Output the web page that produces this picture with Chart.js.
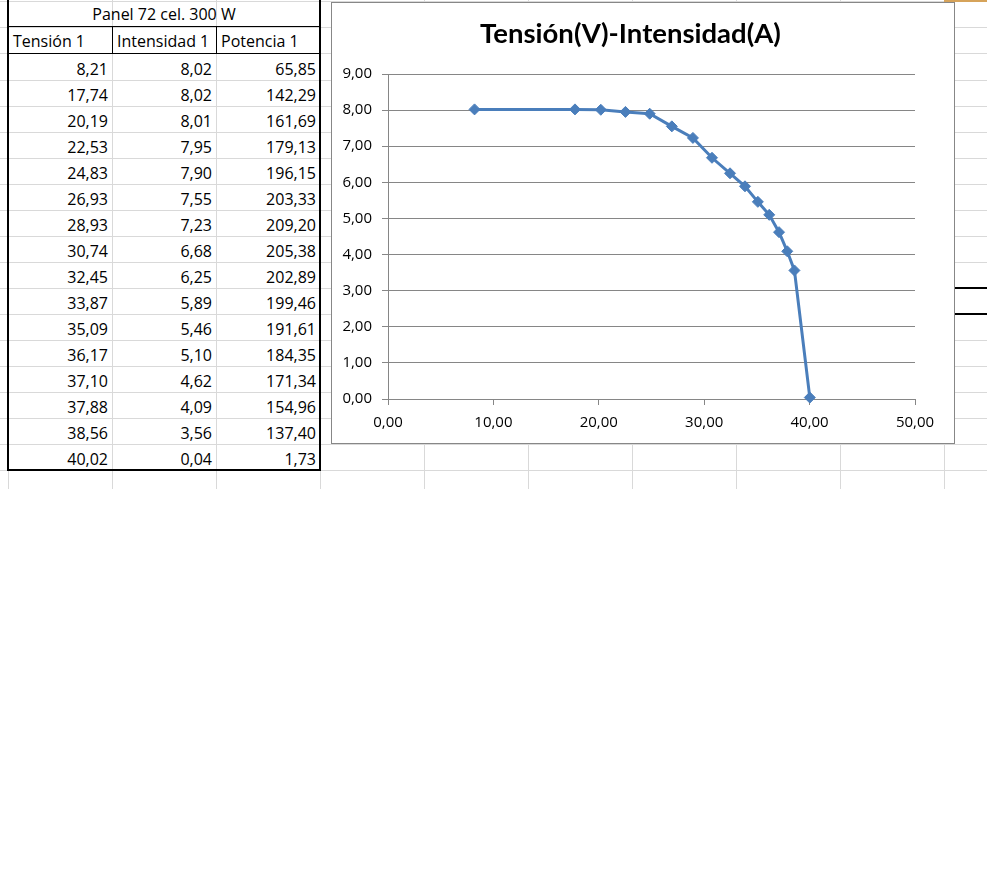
<!DOCTYPE html>
<html>
<head>
<meta charset="utf-8">
<script src="https://cdn.jsdelivr.net/npm/chart.js@4.4.1/dist/chart.umd.min.js"></script>
<style>
  body { margin: 0; background: #fff; }
  #sheet { position: relative; width: 987px; height: 880px; overflow: hidden; font-family: "Open Sans", sans-serif; font-size: 16px; color: #000; }
  .gl { position: absolute; background: #d9d9d9; }
  .bk { position: absolute; background: #000; }
  .txt { position: absolute; height: 26px; line-height: 26px; white-space: nowrap; }
  #chartBox { position: absolute; left: 331px; top: 2px; width: 622px; height: 440px; border: 1px solid #878787; background: #fff; z-index: 2; }
</style>
</head>
<body>
<div id="sheet">
  <div id="chartBox"><canvas id="ivChart" width="622" height="440"></canvas></div>
</div>
<script>
  // ===== Datos del panel =====
  const tableTitle = "Panel 72 cel. 300 W";
  const headers = ["Tensión 1", "Intensidad 1", "Potencia 1"];
  const tension = [8.21, 17.74, 20.19, 22.53, 24.83, 26.93, 28.93, 30.74, 32.45, 33.87, 35.09, 36.17, 37.10, 37.88, 38.56, 40.02];
  const intensidad = [8.02, 8.02, 8.01, 7.95, 7.90, 7.55, 7.23, 6.68, 6.25, 5.89, 5.46, 5.10, 4.62, 4.09, 3.56, 0.04];
  const potencia = [65.85, 142.29, 161.69, 179.13, 196.15, 203.33, 209.20, 205.38, 202.89, 199.46, 191.61, 184.35, 171.34, 154.96, 137.40, 1.73];
  const chartTitle = "Tensión(V)-Intensidad(A)";

  const fmt = v => Number(v).toFixed(2).replace(".", ",");

  // ===== Hoja (cuadricula + tabla) =====
  const sheet = document.getElementById("sheet");
  const box = document.getElementById("chartBox");

  function el(cls, x, y, w, h, text, align) {
    let d = document.createElement("div");
    d.className = cls;
    d.style.left = x + "px";
    d.style.top = y + "px";
    if (w != null) d.style.width = w + "px";
    if (h != null) d.style.height = h + "px";
    if (text != null) d.textContent = text;
    if (align) d.style.textAlign = align;
    sheet.insertBefore(d, box);
    return d;
  }

  let rowLines = [1, 27, 53];
  for (let i = 0; i <= 15; i++) rowLines.push(80 + 26 * i);
  let colLines = [8, 112, 216, 320, 424, 528, 632, 736, 840, 944];

  rowLines.forEach(y => el("gl", 0, y, 987, 1));
  colLines.forEach(x => el("gl", x, 0, 1, 489));

  // bordes de la tabla
  el("bk", 7, 0, 2, 471);
  el("bk", 319, 0, 2, 471);
  el("bk", 7, 469, 314, 2);
  el("bk", 8, 26, 312, 1);
  el("bk", 8, 53, 312, 1);
  el("bk", 112, 27, 1, 27);
  el("bk", 216, 27, 1, 27);

  // celda con borde a la derecha y marca naranja
  el("bk", 954, 287, 33, 2);
  el("bk", 954, 313, 33, 2);
  el("gl", 944, 0, 43, 2).style.background = "#d6a35a";

  // textos (alineados abajo como en Excel)
  el("txt", 8, 20 - 19, 312, null, tableTitle, "center");
  headers.forEach((h, i) => el("txt", colLines[i] + 5, 47 - 19, null, null, h));
  for (let r = 0; r < tension.length; r++) {
    let base = 75 + 26 * r - 19;
    el("txt", 8, base, 100, null, fmt(tension[r]), "right");
    el("txt", 112, base, 100, null, fmt(intensidad[r]), "right");
    el("txt", 216, base, 100, null, fmt(potencia[r]), "right");
  }

  // ===== Grafico V-I =====
  const points = tension.map((v, i) => ({ x: v, y: intensidad[i] }));
  const gray = "#868686";

  new Chart(document.getElementById("ivChart"), {
    type: "scatter",
    data: {
      datasets: [{
        label: chartTitle,
        data: points,
        showLine: true,
        borderColor: "#4A7EBB",
        backgroundColor: "#4A7EBB",
        borderWidth: 3,
        pointStyle: "rectRot",
        pointRadius: 5.5,
        pointHoverRadius: 5.5,
        pointBorderWidth: 1,
        tension: 0,
        clip: false
      }]
    },
    options: {
      responsive: false,
      animation: false,
      devicePixelRatio: 1,
      layout: { padding: { left: 0, top: 0, right: 25, bottom: 0 } },
      plugins: {
        legend: { display: false },
        tooltip: { enabled: false },
        title: {
          display: true,
          text: chartTitle,
          color: "#000",
          font: { family: "Lato", weight: "bold", size: 27.5, lineHeight: "34px" },
          padding: { top: 14, bottom: 23 }
        }
      },
      scales: {
        x: {
          type: "linear",
          min: 0,
          max: 50,
          ticks: { stepSize: 10, padding: 9, color: "#000", maxRotation: 0, font: { family: "Open Sans", size: 15 }, callback: fmt },
          grid: { drawOnChartArea: false, drawTicks: true, tickLength: 6, color: gray },
          border: { display: true, color: gray, width: 1 },
          afterFit: s => { s.height = 44; s.paddingRight = 39; }
        },
        y: {
          min: 0,
          max: 9,
          ticks: { stepSize: 1, padding: 10, color: "#000", font: { family: "Open Sans", size: 15 }, callback: fmt },
          grid: { color: gray, tickLength: 6 },
          border: { display: true, color: gray, width: 1 },
          afterFit: s => { s.width = 56; }
        }
      }
    }
  });
</script>
</body>
</html>
